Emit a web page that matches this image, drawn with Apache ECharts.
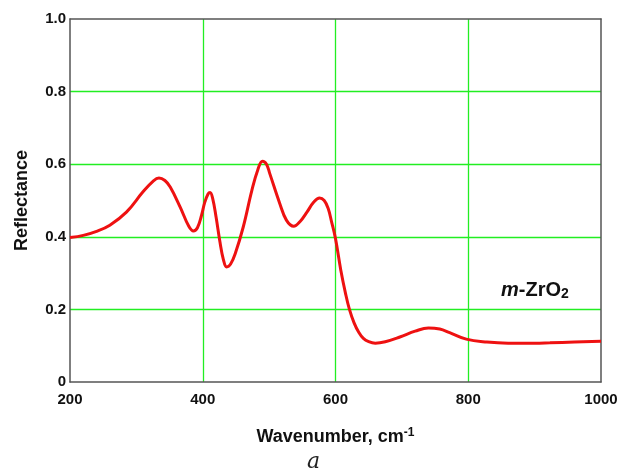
<!DOCTYPE html>
<html><head><meta charset="utf-8">
<script src="https://cdn.jsdelivr.net/npm/echarts@6/dist/echarts.min.js"></script>
<style>html,body{margin:0;padding:0;background:#fff}#c{width:626px;height:473px}</style>
</head><body><div id="c"></div>
<script>
const wavenumber = [200,220,240,260,285,310,325,334,343,351,366,379,386,392,398,403,408,411,415,420,426,431,436,442,449,461,474,483,490,496,501,516,526,537,547,557,567,576,583,589,594,600,608,615,621,628,635,642,650,660,675,697,720,740,757,772,797,828,860,900,923,960,1000];
const reflectance = [0.398,0.404,0.415,0.432,0.468,0.524,0.553,0.562,0.555,0.537,0.482,0.429,0.416,0.425,0.458,0.495,0.518,0.522,0.505,0.455,0.385,0.338,0.317,0.325,0.354,0.427,0.528,0.585,0.608,0.600,0.574,0.492,0.446,0.429,0.443,0.468,0.495,0.507,0.500,0.478,0.442,0.395,0.308,0.245,0.20,0.163,0.137,0.120,0.111,0.107,0.111,0.124,0.140,0.149,0.146,0.136,0.118,0.110,0.107,0.107,0.108,0.110,0.112];
const xTicks = [200,400,600,800,1000];
const yTicks = [0,0.2,0.4,0.6,0.8,1.0];
const chart = echarts.init(document.getElementById('c'));
const font = 'Liberation Sans, Arial, sans-serif';
chart.setOption({
  animation:false,
  backgroundColor:'#fff',
  grid:{left:70,top:19,right:25,bottom:91,show:false},
  xAxis:[{type:'value',min:200,max:1000,interval:200,
    axisLine:{show:true,onZero:false,lineStyle:{color:'#555',width:1.5}},axisTick:{show:false},
    splitLine:{show:true,showMinLine:false,showMaxLine:false,lineStyle:{color:'#22ee22',width:1.3}},
    axisLabel:{color:'#111',fontWeight:'bold',fontSize:15,fontFamily:font,margin:10,formatter:v=>String(v)},
    name:'Wavenumber, cm{s|-1}',nameLocation:'middle',nameGap:45,
    nameTextStyle:{color:'#111',fontWeight:'bold',fontSize:18,fontFamily:font,
      rich:{s:{fontSize:12,fontWeight:'bold',fontFamily:font,verticalAlign:'top',padding:[0,0,9,0],color:'#111'}}}},
   {type:'value',position:'top',min:200,max:1000,interval:200,
    axisLine:{show:true,onZero:false,lineStyle:{color:'#555',width:1.5}},axisTick:{show:false},axisLabel:{show:false},splitLine:{show:false}}],
  yAxis:[{type:'value',min:0,max:1,interval:0.2,
    axisLine:{show:true,onZero:false,lineStyle:{color:'#555',width:1.5}},axisTick:{show:false},
    splitLine:{show:true,showMinLine:false,showMaxLine:false,lineStyle:{color:'#22ee22',width:1.3}},
    axisLabel:{color:'#111',fontWeight:'bold',fontSize:15,fontFamily:font,margin:4,
      formatter:v=>v===0?'0':v.toFixed(1)},
    name:'Reflectance',nameLocation:'middle',nameGap:39,
    nameTextStyle:{color:'#111',fontWeight:'bold',fontSize:18,fontFamily:font}},
   {type:'value',position:'right',min:0,max:1,interval:0.2,
    axisLine:{show:true,onZero:false,lineStyle:{color:'#555',width:1.5}},axisTick:{show:false},axisLabel:{show:false},splitLine:{show:false}}],
  series:[{type:'line',data:wavenumber.map((w,i)=>[w,reflectance[i]]),smooth:0.4,showSymbol:false,
    lineStyle:{color:'#ee1111',width:3},z:5}],
  graphic:[
    {type:'text',left:501,top:280,style:{rich:{i:{fontStyle:'italic',fontWeight:'bold',fontSize:20,fontFamily:font,fill:'#111'},n:{fontWeight:'bold',fontSize:20,fontFamily:font,fill:'#111'},s:{fontWeight:'bold',fontSize:14,fontFamily:font,fill:'#111',padding:[9,0,0,0]}},text:'{i|m}{n|-ZrO}{s|2}'}},
    {type:'text',left:307,top:451,style:{text:'a',font:'italic 22px "DejaVu Serif", serif',fill:'#222'}}
  ]
});
</script></body></html>
